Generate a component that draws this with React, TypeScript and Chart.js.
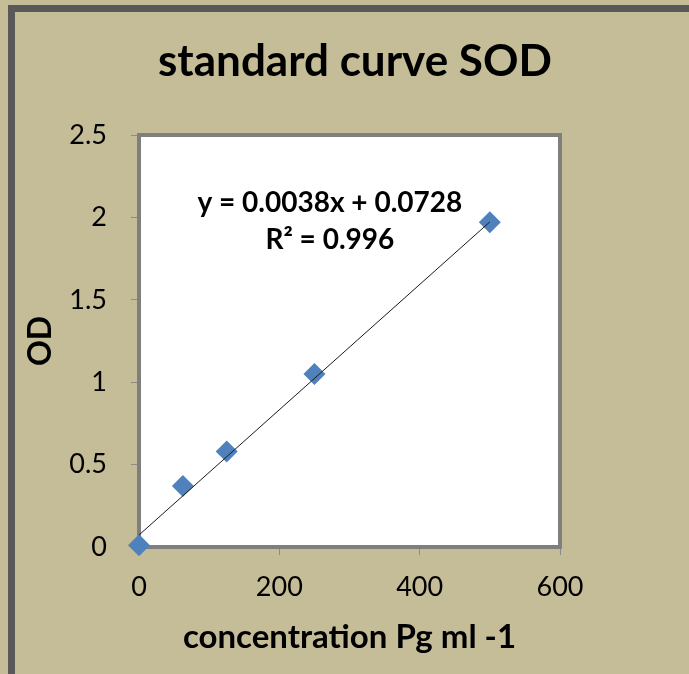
import React, { useEffect, useRef } from 'react';
import { Chart, registerables } from 'chart.js';

Chart.register(...registerables);

// ---- data ----
const concentrations = [0, 62.5, 125, 250, 500];
const odValues = [0.01, 0.37, 0.58, 1.05, 1.97];
const trendSlope = 0.0038;
const trendIntercept = 0.0728;
const trendXRange = [0, 500];
const xTickValues = [0, 200, 400, 600];
const yTickValues = [0, 0.5, 1, 1.5, 2, 2.5];
const chartTitle = 'standard curve SOD';
const xAxisTitle = 'concentration Pg ml -1';
const yAxisTitle = 'OD';
const equationLines = ['y = 0.0038x + 0.0728', 'R² = 0.996'];
const equationAnchor = { x: 272, y: 2.087 };

const FONT = 'Lato, "Open Sans", "DejaVu Sans", sans-serif';

const framePlugin = {
  id: 'frame',
  beforeDraw(chart: any) {
    const { ctx, width, height } = chart;
    ctx.save();
    ctx.fillStyle = '#C4BD97';
    ctx.fillRect(0, 0, width, height);
    ctx.strokeStyle = '#595959';
    ctx.lineWidth = 7;
    ctx.strokeRect(11.5, 8.5, width + 20, height - 5);
    ctx.fillStyle = '#000000';
    ctx.font = `bold 44px ${FONT}`;
    ctx.textAlign = 'center';
    ctx.textBaseline = 'middle';
    ctx.fillText(chartTitle, 355, 62);
    ctx.restore();
  },
  beforeDatasetsDraw(chart: any) {
    const { ctx, chartArea: a } = chart;
    ctx.save();
    ctx.fillStyle = '#FFFFFF';
    ctx.fillRect(a.left, a.top, a.right - a.left, a.bottom - a.top);
    ctx.strokeStyle = '#7F7F7F';
    ctx.lineWidth = 4;
    ctx.strokeRect(a.left, a.top, a.right - a.left, a.bottom - a.top);
    ctx.restore();
  },
  afterDatasetsDraw(chart: any) {
    const { ctx, scales } = chart;
    const px = scales.x.getPixelForValue(equationAnchor.x);
    const py = scales.y.getPixelForValue(equationAnchor.y);
    ctx.save();
    ctx.fillStyle = '#000000';
    ctx.font = `bold 28px ${FONT}`;
    ctx.textAlign = 'center';
    ctx.textBaseline = 'middle';
    equationLines.forEach((line, i) => ctx.fillText(line, px, py + i * 37));
    ctx.restore();
  },
};

export default function App() {
  const canvasRef = useRef<HTMLCanvasElement | null>(null);

  useEffect(() => {
    const canvas = canvasRef.current;
    if (!canvas) return;
    const chart = new Chart(canvas, {
      type: 'scatter',
      data: {
        datasets: [
          {
            label: 'trend',
            data: trendXRange.map((x) => ({ x, y: trendSlope * x + trendIntercept })),
            showLine: true,
            borderColor: '#1a1a1a',
            borderWidth: 1,
            pointRadius: 0,
            clip: false as any,
          },
          {
            label: 'OD',
            data: concentrations.map((x, i) => ({ x, y: odValues[i] })),
            pointStyle: 'rectRot',
            pointRadius: 11,
            pointHoverRadius: 11,
            backgroundColor: '#4F81BD',
            borderColor: '#4F81BD',
            borderWidth: 0,
            clip: false as any,
          },
        ],
      },
      options: {
        responsive: false,
        animation: false,
        devicePixelRatio: 1,
        layout: { padding: { left: 0, right: 129, top: 135, bottom: 0 } },
        plugins: {
          legend: { display: false },
          tooltip: { enabled: false },
          title: { display: false },
        },
        scales: {
          x: {
            type: 'linear',
            min: 0,
            max: 600,
            afterBuildTicks: (s: any) => {
              s.ticks = xTickValues.map((v) => ({ value: v }));
            },
            afterFit: (s: any) => {
              s.height = 127;
            },
            grid: {
              display: true,
              drawOnChartArea: false,
              drawTicks: true,
              tickLength: 8,
              tickColor: '#8C8C8C',
              tickWidth: 1,
            },
            border: { display: false },
            ticks: {
              color: '#000000',
              font: { family: FONT, size: 27 },
              padding: 16,
              maxRotation: 0,
              callback: (v: any) => String(v),
            },
            title: {
              display: true,
              text: xAxisTitle,
              color: '#000000',
              font: { family: FONT, size: 33, weight: 'bold', lineHeight: 1.2 },
              padding: { top: 0, bottom: 17 },
            },
          },
          y: {
            type: 'linear',
            min: 0,
            max: 2.5,
            afterBuildTicks: (s: any) => {
              s.ticks = yTickValues.map((v) => ({ value: v }));
            },
            afterFit: (s: any) => {
              s.width = 139;
            },
            grid: {
              display: true,
              drawOnChartArea: false,
              drawTicks: true,
              tickLength: 8,
              tickColor: '#8C8C8C',
              tickWidth: 1,
            },
            border: { display: false },
            ticks: {
              color: '#000000',
              font: { family: FONT, size: 27 },
              padding: 24,
              callback: (v: any) => String(v),
            },
            title: {
              display: true,
              text: yAxisTitle,
              color: '#000000',
              font: { family: FONT, size: 32, weight: 'bold', lineHeight: 1.2 },
              padding: { top: 21, bottom: 0 },
            },
          },
        },
      },
      plugins: [framePlugin],
    });
    return () => chart.destroy();
  }, []);

  return (
    <div style={{ position: 'absolute', left: 0, top: 0, width: 689, height: 674 }}>
      <canvas ref={canvasRef} width={689} height={674} style={{ display: 'block' }} />
    </div>
  );
}
